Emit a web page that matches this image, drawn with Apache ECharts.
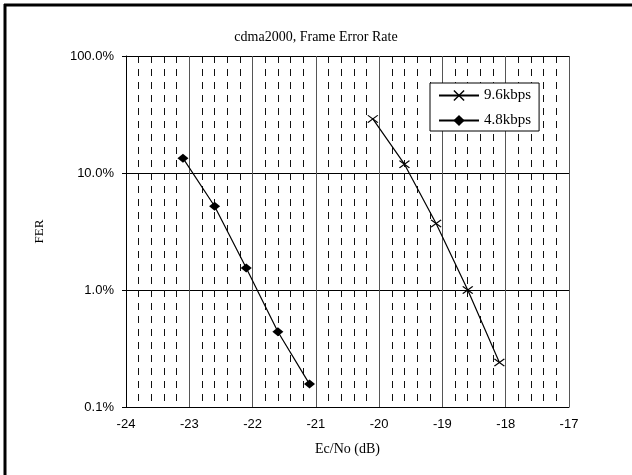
<!DOCTYPE html>
<html>
<head>
<meta charset="utf-8">
<script src="https://cdn.jsdelivr.net/npm/echarts@6/dist/echarts.min.js"></script>
<style>
  html, body { margin: 0; padding: 0; background: #fff; }
  #main { width: 632px; height: 475px; }
</style>
</head>
<body>
<div id="main"></div>
<script>
// data (x: Ec/No dB, y: FER in %)
var x96 = [-20.1, -19.6, -19.1, -18.6, -18.1];
var fer96 = [29, 11.9, 3.7, 1.0, 0.24];
var x48 = [-23.1, -22.6, -22.1, -21.6, -21.1];
var fer48 = [13.4, 5.2, 1.54, 0.44, 0.157];
var seriesNames = ['9.6kbps', '4.8kbps'];

function pairs(xs, ys) {
	var out = [];
	for (var i = 0; i < xs.length; i++) {
		out.push([xs[i], ys[i]]);
	}
	return out;
}

var crossPath = 'path://M0,0.9L0.9,0L10,9.1L9.1,10Z M9.1,0L10,0.9L0.9,10L0,9.1Z';
var serif = 'Liberation Serif';
var sans = 'Liberation Sans';

var chart = echarts.init(document.getElementById('main'));

var option = {
	backgroundColor: '#fff',
	animation: false,
	title: {
		text: 'cdma2000, Frame Error Rate',
		left: 'center',
		top: 25,
		textStyle: { fontFamily: serif, fontSize: 14, fontWeight: 'normal', color: '#000' }
	},
	legend: {
		data: seriesNames,
		orient: 'vertical',
		left: 430,
		top: 83,
		padding: [5, 8, 3, 8],
		itemGap: 10,
		itemWidth: 40,
		itemHeight: 14,
		backgroundColor: '#fff',
		borderColor: '#000',
		borderWidth: 1,
		borderRadius: 0,
		textStyle: { fontFamily: serif, fontSize: 15, color: '#000' }
	},
	grid: {
		left: 126,
		right: 63,
		top: 56,
		bottom: 68,
		containLabel: false
	},
	xAxis: {
		type: 'value',
		min: -24,
		max: -17,
		interval: 1,
		name: 'Ec/No (dB)',
		nameLocation: 'middle',
		nameGap: 35,
		nameTextStyle: { fontFamily: serif, fontSize: 14, color: '#000' },
		axisLine: { show: true, onZero: false, lineStyle: { color: '#000', width: 1 } },
		axisTick: { show: false },
		axisLabel: { fontFamily: sans, fontSize: 13, color: '#000', margin: 11 },
		splitLine: { show: true, lineStyle: { color: '#555', width: 1 } },
		minorTick: { show: false, splitNumber: 5 },
		minorSplitLine: { show: true, lineStyle: { color: '#111', width: 1, type: [7, 6] } }
	},
	yAxis: {
		type: 'log',
		logBase: 10,
		min: 0.1,
		max: 100,
		name: 'FER',
		nameLocation: 'middle',
		nameGap: 80,
		nameRotate: 90,
		nameTextStyle: { fontFamily: serif, fontSize: 13, color: '#000' },
		axisLine: { show: true, lineStyle: { color: '#000', width: 1 } },
		axisTick: { show: true, inside: false, length: 4, lineStyle: { color: '#000' } },
		axisLabel: {
			fontFamily: sans,
			fontSize: 13,
			color: '#000',
			margin: 12,
			formatter: function (v) { return Number(v).toFixed(1) + '%'; }
		},
		splitLine: { show: true, lineStyle: { color: '#000', width: 1 } }
	},
	series: [
		{
			name: seriesNames[0],
			type: 'line',
			data: pairs(x96, fer96),
			symbol: crossPath,
			symbolSize: [11, 8],
			showAllSymbol: true,
			lineStyle: { color: '#000', width: 1.2 },
			itemStyle: { color: '#000' },
			z: 5
		},
		{
			name: seriesNames[1],
			type: 'line',
			data: pairs(x48, fer48),
			symbol: 'diamond',
			symbolSize: [11, 9],
			showAllSymbol: true,
			lineStyle: { color: '#000', width: 1.2 },
			itemStyle: { color: '#000' },
			z: 5
		}
	],
	graphic: [
		{ type: 'line', shape: { x1: 5, y1: 4, x2: 5, y2: 475 }, style: { stroke: '#000', lineWidth: 3 } },
		{ type: 'line', shape: { x1: 4, y1: 5, x2: 632, y2: 5 }, style: { stroke: '#000', lineWidth: 3 } }
	]
};

chart.setOption(option);
</script>
</body>
</html>
